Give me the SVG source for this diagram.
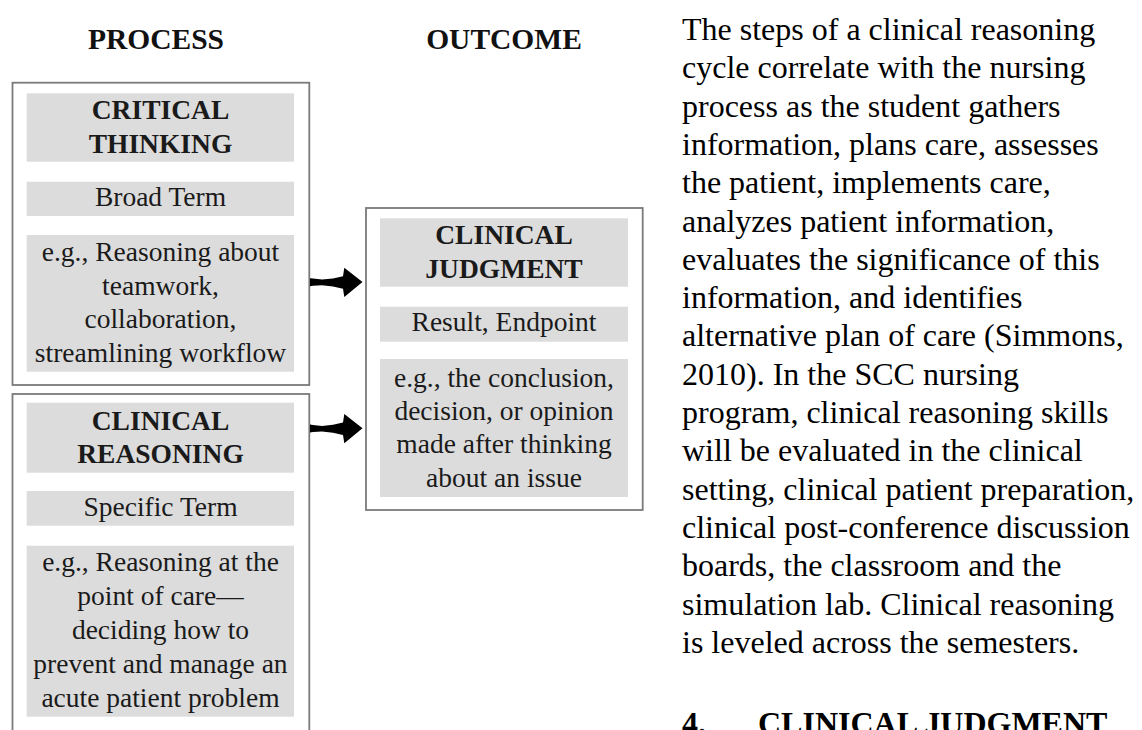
<svg xmlns="http://www.w3.org/2000/svg" width="1142" height="730" viewBox="0 0 1142 730">
  <style>
    .frame{fill:#ffffff;stroke:#7a7a7a;stroke-width:1.8}
    .band{fill:#dcdcdc}
    .hd{font-family:"Liberation Serif","Times New Roman",serif;font-weight:bold;font-size:29.5px;fill:#111;text-anchor:middle}
    .bt{font-family:"Liberation Serif","Times New Roman",serif;font-weight:bold;font-size:27.5px;fill:#1a1a1a;text-anchor:middle}
    .t{font-family:"Liberation Serif","Times New Roman",serif;font-size:27.5px;fill:#1a1a1a;text-anchor:middle}
    .body{font-family:"Liberation Serif","Times New Roman",serif;font-size:32px;fill:#000}
    .sec{font-family:"Liberation Serif","Times New Roman",serif;font-weight:bold;font-size:32px;fill:#000}
    .arr{fill:#000}
  </style>

  <g id="headings">
    <text class="hd" x="156" y="49">PROCESS</text>
    <text class="hd" x="504" y="49">OUTCOME</text>
  </g>

  <g id="critical-thinking">
    <rect class="frame" x="12.5" y="82.7" width="296.8" height="302.3"/>
    <rect class="band" x="26.7" y="93.3" width="267.3" height="68.4"/>
    <text class="bt" x="160.5" y="119">CRITICAL</text>
    <text class="bt" x="160.5" y="153">THINKING</text>
    <rect class="band" x="26.7" y="181.7" width="267.3" height="34.3"/>
    <text class="t" x="160.5" y="206">Broad Term</text>
    <rect class="band" x="26.7" y="235" width="267.3" height="136.7"/>
    <text class="t" x="160.5" y="261">e.g., Reasoning about</text>
    <text class="t" x="160.5" y="294.5">teamwork,</text>
    <text class="t" x="160.5" y="328">collaboration,</text>
    <text class="t" x="160.5" y="361.5">streamlining workflow</text>
  </g>

  <g id="clinical-reasoning">
    <rect class="frame" x="12.5" y="394" width="296.8" height="350"/>
    <rect class="band" x="26.7" y="402.7" width="267.3" height="70"/>
    <text class="bt" x="160.5" y="430">CLINICAL</text>
    <text class="bt" x="160.5" y="463">REASONING</text>
    <rect class="band" x="26.7" y="491" width="267.3" height="34.7"/>
    <text class="t" x="160.5" y="516">Specific Term</text>
    <rect class="band" x="26.7" y="545.7" width="267.3" height="171"/>
    <text class="t" x="160.5" y="570.5">e.g., Reasoning at the</text>
    <text class="t" x="160.5" y="604.5">point of care—</text>
    <text class="t" x="160.5" y="638.5">deciding how to</text>
    <text class="t" x="160.5" y="672.5">prevent and manage an</text>
    <text class="t" x="160.5" y="706.5">acute patient problem</text>
  </g>

  <g id="clinical-judgment">
    <rect class="frame" x="366" y="208" width="276.7" height="302"/>
    <rect class="band" x="380" y="218.3" width="248" height="68.4"/>
    <text class="bt" x="504" y="244">CLINICAL</text>
    <text class="bt" x="504" y="278">JUDGMENT</text>
    <rect class="band" x="380" y="306.7" width="248" height="35"/>
    <text class="t" x="504" y="331">Result, Endpoint</text>
    <rect class="band" x="380" y="359" width="248" height="138"/>
    <text class="t" x="504" y="386.7">e.g., the conclusion,</text>
    <text class="t" x="504" y="420">decision, or opinion</text>
    <text class="t" x="504" y="453.3">made after thinking</text>
    <text class="t" x="504" y="486.7">about an issue</text>
  </g>

  <defs>
    <path id="blockArrow" d="M310,278.3 L313,278.6 L322,279.6 L333,278.4 L343,276.2 L344.3,267.8 L362.5,282 L344.3,297 L343,288.8 L333,286.4 L322,285.2 L313,285.8 L310,286.2 Z"/>
  </defs>
  <g id="connectors">
    <use class="arr" href="#blockArrow"/>
    <use class="arr" href="#blockArrow" transform="translate(0,146.3)"/>
  </g>

  <g id="description">
    <text class="body" x="682" y="40">The steps of a clinical reasoning</text>
    <text class="body" x="682" y="78.3">cycle correlate with the nursing</text>
    <text class="body" x="682" y="116.6">process as the student gathers</text>
    <text class="body" x="682" y="154.9">information, plans care, assesses</text>
    <text class="body" x="682" y="193.2">the patient, implements care,</text>
    <text class="body" x="682" y="231.5">analyzes patient information,</text>
    <text class="body" x="682" y="269.8">evaluates the significance of this</text>
    <text class="body" x="682" y="308.1">information, and identifies</text>
    <text class="body" x="682" y="346.4">alternative plan of care (Simmons,</text>
    <text class="body" x="682" y="384.7">2010). In the SCC nursing</text>
    <text class="body" x="682" y="423">program, clinical reasoning skills</text>
    <text class="body" x="682" y="461.3">will be evaluated in the clinical</text>
    <text class="body" x="682" y="499.6">setting, clinical patient preparation,</text>
    <text class="body" x="682" y="537.9">clinical post-conference discussion</text>
    <text class="body" x="682" y="576.2">boards, the classroom and the</text>
    <text class="body" x="682" y="614.5">simulation lab. Clinical reasoning</text>
    <text class="body" x="682" y="652.8">is leveled across the semesters.</text>
    <text class="sec" x="682" y="734">4.</text>
    <text class="sec" x="758" y="734">CLINICAL JUDGMENT</text>
  </g>
</svg>
